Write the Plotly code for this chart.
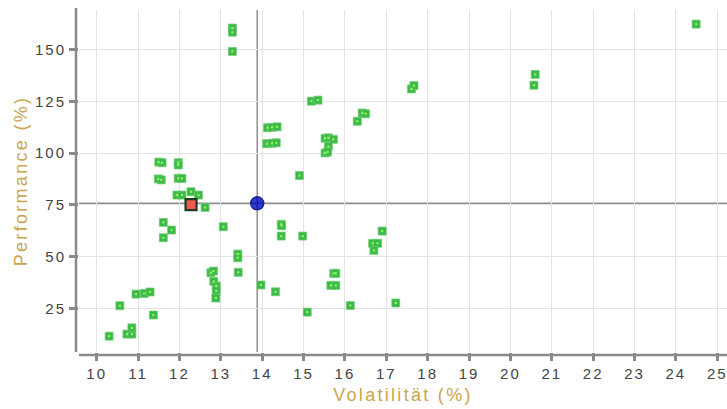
import plotly.graph_objects as go

vol = [13.28, 13.28, 13.28, 11.50, 11.58, 11.97, 11.97, 11.49, 11.56, 11.97,
       12.06, 11.94, 12.06, 12.28, 12.46, 12.62, 11.61, 11.81, 11.61, 13.06,
       13.41, 13.41, 13.42, 12.76, 12.82, 12.83, 12.89, 12.89, 12.88, 10.30,
       10.73, 10.85, 10.85, 10.56, 10.95, 11.15, 11.29, 11.37, 13.97, 14.32,
       17.61, 17.67, 15.19, 15.35, 16.42, 16.50, 16.30, 14.13, 14.24, 14.36,
       14.11, 14.24, 14.34, 15.52, 15.60, 15.72, 15.60, 15.52, 15.58, 14.90,
       14.46, 14.47, 14.46, 14.98, 16.90, 16.67, 16.79, 16.70, 15.09, 15.73,
       15.78, 15.66, 15.78, 16.13, 17.23, 20.60, 20.57, 24.49]
perf = [160.4, 158.4, 149.1, 95.7, 95.4, 95.4, 94.3, 87.6, 87.1, 87.9,
        87.8, 79.8, 79.8, 81.4, 79.8, 73.8, 66.6, 62.9, 59.2, 64.5,
        51.3, 49.5, 42.5, 42.3, 43.1, 38.1, 35.9, 33.6, 30.1, 11.7,
        12.7, 12.7, 15.7, 26.4, 32.0, 32.3, 33.0, 21.9, 36.4, 33.1,
        131.0, 132.6, 125.1, 125.6, 119.4, 119.0, 115.4, 112.3, 112.5, 112.7,
        104.6, 104.8, 105.0, 107.2, 107.4, 106.7, 103.3, 100.1, 100.6, 89.2,
        65.7, 65.0, 60.0, 60.0, 62.4, 56.5, 56.5, 53.1, 23.3, 42.0,
        42.0, 36.2, 36.2, 26.5, 27.7, 138.0, 132.8, 162.3]

selected_vol = [12.28]
selected_perf = [75.2]
avg_vol = [13.88]
avg_perf = [75.8]

x_ticks = list(range(10, 26))
y_ticks = [25, 50, 75, 100, 125, 150]

fig = go.Figure()

fig.add_trace(go.Scatter(
    x=vol, y=perf, mode="markers", hoverinfo="skip",
    marker=dict(symbol="square", size=8, color="#3cb94a",
                line=dict(width=1, color="rgba(110,205,110,0.7)")),
))
fig.add_trace(go.Scatter(
    x=vol, y=perf, mode="markers", hoverinfo="skip",
    marker=dict(symbol="square", size=2.2, color="#8cf55a", line=dict(width=0)),
))
fig.add_trace(go.Scatter(
    x=selected_vol, y=selected_perf, mode="markers", hoverinfo="skip",
    marker=dict(symbol="square", size=11, color="#f2584f",
                line=dict(width=2.2, color="#1e3d1e")),
))
fig.add_trace(go.Scatter(
    x=avg_vol, y=avg_perf, mode="markers", hoverinfo="skip",
    marker=dict(symbol="circle-cross", size=13, color="#2a3ae0",
                line=dict(width=1.5, color="#1a2590")),
))

axis_col = "#8a8a8a"
shapes = [
    dict(type="line", xref="x", yref="paper", x0=avg_vol[0], x1=avg_vol[0], y0=0, y1=1,
         line=dict(color="#8f8f8f", width=1.5), layer="below"),
    dict(type="line", xref="paper", yref="y", x0=0, x1=1, y0=avg_perf[0], y1=avg_perf[0],
         line=dict(color="#8f8f8f", width=1.5), layer="below"),
    dict(type="line", xref="paper", yref="paper", x0=-3/648, x1=-3/648, y0=0, y1=1.006,
         line=dict(color=axis_col, width=2.5), layer="above"),
    dict(type="line", xref="paper", yref="paper", x0=0, x1=1, y0=-3/342, y1=-3/342,
         line=dict(color=axis_col, width=2.5), layer="above"),
]

fig.update_layout(
    width=727, height=409,
    margin=dict(l=79, r=0, t=10, b=57),
    paper_bgcolor="white", plot_bgcolor="white",
    showlegend=False,
    font=dict(family="Liberation Sans, Arial, sans-serif", size=14, color="#444444"),
    shapes=shapes,
    xaxis=dict(
        range=[9.572, 25.236], tickmode="array", tickvals=x_ticks,
        ticktext=[str(t) for t in x_ticks],
        showgrid=True, gridcolor="#e3e3e3", gridwidth=1, zeroline=False,
        showline=False, ticks="outside", ticklen=8, tickwidth=2.5, tickcolor=axis_col,
        tickfont=dict(size=15, color="#444444"),
        title=dict(text="Volatilität (%)", font=dict(size=18, color="#c9a64e"), standoff=7),
    ),
    yaxis=dict(
        range=[4.05, 169.1], tickmode="array", tickvals=y_ticks,
        ticktext=[str(t) for t in y_ticks],
        showgrid=True, gridcolor="#e3e3e3", gridwidth=1, zeroline=False,
        showline=False, ticks="outside", ticklen=9, tickwidth=2.5, tickcolor=axis_col,
        tickfont=dict(size=15, color="#444444"),
        title=dict(text="Performance (%)", font=dict(size=18, color="#c9a64e"), standoff=8),
    ),
)

post = (
    "document.body.style.margin='0';document.body.style.overflow='hidden';"
    "document.querySelectorAll('.xtick text, .ytick text').forEach(function(t){t.style.letterSpacing='2px';});"
    "document.querySelectorAll('.xtitle, .ytitle').forEach(function(t){t.style.letterSpacing='2.3px';});"
)
fig.write_html("out.html", post_script=post, config={"displayModeBar": False})
